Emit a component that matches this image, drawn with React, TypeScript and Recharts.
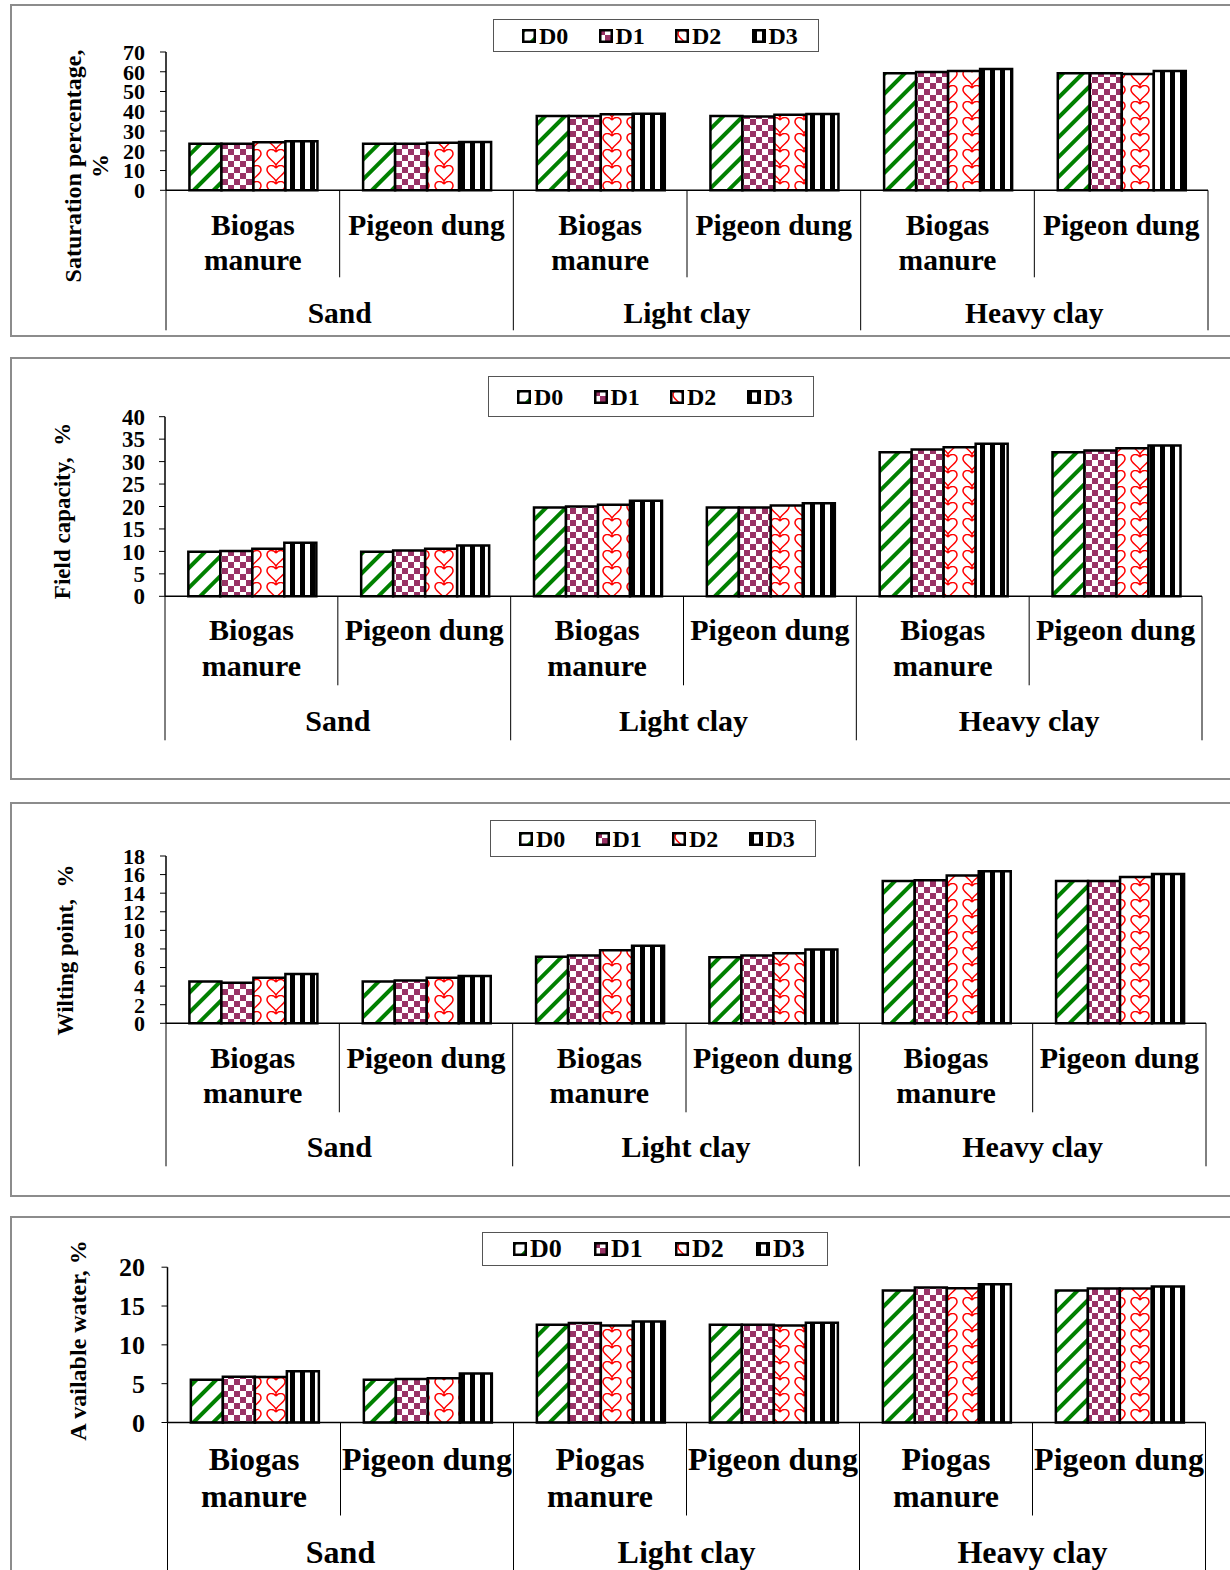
import React from 'react';
import { BarChart, Bar, XAxis, YAxis, Legend } from 'recharts';

const FONT = '"Liberation Serif", "Times New Roman", serif';

const SUBS = ['Biogas\nmanure', 'Pigeon dung', 'Biogas\nmanure', 'Pigeon dung', 'Biogas\nmanure', 'Pigeon dung'];
const SUBS_AW = ['Biogas\nmanure', 'Pigeon dung', 'Piogas\nmanure', 'Pigeon dung', 'Piogas\nmanure', 'Pigeon dung'];
const GROUPS = ['Sand', 'Light clay', 'Heavy clay'];
const SERIES = ['D0', 'D1', 'D2', 'D3'];

// Saturation percentage, %
const SAT_D0 = [23.6, 23.6, 37.6, 37.6, 59.2, 59.3];
const SAT_D1 = [23.6, 23.6, 37.6, 37.4, 59.9, 59.2];
const SAT_D2 = [24.3, 24.1, 38.5, 38.2, 60.4, 58.9];
const SAT_D3 = [24.8, 24.4, 38.8, 38.6, 61.4, 60.4];
const SAT_TICKS = [0, 10, 20, 30, 40, 50, 60, 70];

// Field capacity, %
const FC_D0 = [9.9, 9.9, 19.8, 19.8, 32.1, 32.1];
const FC_D1 = [10.1, 10.2, 20.0, 19.8, 32.7, 32.5];
const FC_D2 = [10.6, 10.6, 20.4, 20.2, 33.2, 33.0];
const FC_D3 = [11.9, 11.3, 21.3, 20.7, 34.0, 33.6];
const FC_TICKS = [0, 5, 10, 15, 20, 25, 30, 35, 40];

// Wilting point, %
const WP_D0 = [4.5, 4.5, 7.15, 7.1, 15.3, 15.3];
const WP_D1 = [4.35, 4.6, 7.3, 7.3, 15.4, 15.3];
const WP_D2 = [4.9, 4.9, 7.85, 7.55, 15.9, 15.75];
const WP_D3 = [5.3, 5.1, 8.35, 7.95, 16.35, 16.05];
const WP_TICKS = [0, 2, 4, 6, 8, 10, 12, 14, 16, 18];

// Available water, %
const AW_D0 = [5.5, 5.5, 12.6, 12.6, 17.0, 17.0];
const AW_D1 = [5.9, 5.6, 12.8, 12.6, 17.4, 17.25];
const AW_D2 = [5.85, 5.7, 12.5, 12.5, 17.3, 17.25];
const AW_D3 = [6.6, 6.3, 13.0, 12.85, 17.8, 17.5];
const AW_TICKS = [0, 5, 10, 15, 20];

const buildRows = (subs: string[], d0: number[], d1: number[], d2: number[], d3: number[]) =>
  subs.map((s, i) => ({ sub: s, D0: d0[i], D1: d1[i], D2: d2[i], D3: d3[i] }));

type Layout = {
  boxTop: number; boxBottom: number;
  plotLeft: number; plotRight: number; plotTop: number; plotBottom: number;
  tickFs: number; subFs: number;
  l1: number; l2: number; grp: number; subLine: number; grpLine: number;
  leg: { x: number; y: number; w: number; h: number; off: number; step: number; fs: number };
  title: { lines: { t: string; cx: number }[]; cy: number; fs: number };
};

const L1: Layout = {
  boxTop: 5, boxBottom: 336, plotLeft: 166, plotRight: 1208, plotTop: 52, plotBottom: 190.3,
  tickFs: 22, subFs: 29.5, l1: 45, l2: 80, grp: 133, subLine: 87, grpLine: 140,
  leg: { x: 493, y: 19, w: 326, h: 33, off: 28, step: 76.5, fs: 24 },
  title: { lines: [{ t: 'Saturation percentage,', cx: 73 }, { t: '%', cx: 100 }], cy: 166, fs: 24 },
};
const L2: Layout = {
  boxTop: 358, boxBottom: 779, plotLeft: 165, plotRight: 1202, plotTop: 416.7, plotBottom: 596.3,
  tickFs: 23, subFs: 30, l1: 44, l2: 80, grp: 135, subLine: 89, grpLine: 144,
  leg: { x: 488, y: 376, w: 326, h: 41, off: 28, step: 76.5, fs: 24 },
  title: { lines: [{ t: 'Field capacity,  %', cx: 62 }], cy: 511, fs: 23 },
};
const L3: Layout = {
  boxTop: 803, boxBottom: 1196, plotLeft: 166, plotRight: 1206, plotTop: 856, plotBottom: 1023.3,
  tickFs: 22, subFs: 30, l1: 45, l2: 80, grp: 134, subLine: 89, grpLine: 143,
  leg: { x: 490, y: 820, w: 326, h: 37, off: 28, step: 76.5, fs: 24 },
  title: { lines: [{ t: 'Wilting point,  %', cx: 65 }], cy: 950, fs: 23 },
};
const L4: Layout = {
  boxTop: 1216.5, boxBottom: 1620, plotLeft: 167.5, plotRight: 1205.5, plotTop: 1266.7, plotBottom: 1422,
  tickFs: 26, subFs: 32, l1: 47, l2: 84, grp: 140, subLine: 93, grpLine: 200,
  leg: { x: 482, y: 1232, w: 346, h: 34, off: 30, step: 81, fs: 26 },
  title: { lines: [{ t: 'A vailable water, %', cx: 78 }], cy: 1340, fs: 24 },
};

const Patterns = () => (
  <svg width={0} height={0} style={{ position: 'absolute', left: 0, top: 0 }}>
    <defs>
      <pattern id="pD0" patternUnits="userSpaceOnUse" width={14} height={14} patternTransform="rotate(45)">
        <rect width={14} height={14} fill="#fff" />
        <rect width={4} height={14} fill="#008000" />
      </pattern>
      <pattern id="pD1" patternUnits="userSpaceOnUse" width={12} height={12}>
        <rect width={12} height={12} fill="#fff" />
        <rect width={6} height={6} fill="#993366" />
        <rect x={6} y={6} width={6} height={6} fill="#993366" />
      </pattern>
      <pattern id="pD2" patternUnits="userSpaceOnUse" width={24} height={16}>
        <rect width={24} height={16} fill="#fff" />
        <path d="M12 3 C9 -1 3 0 3 5 C3 9 9 11 12 16 M12 3 C15 -1 21 0 21 5 C21 9 15 11 12 16 M12 0 L12 3"
          stroke="#ff0000" strokeWidth={1.5} fill="none" strokeLinejoin="miter" />
      </pattern>
      <pattern id="pD3" patternUnits="userSpaceOnUse" width={10} height={10}>
        <rect width={10} height={10} fill="#fff" />
        <rect width={5} height={10} fill="#000" />
      </pattern>
    </defs>
  </svg>
);

const LegendBox = ({ L }: { L: Layout }) => (
  <div style={{ width: '100%', height: '100%', boxSizing: 'border-box', border: '1.5px solid #555', background: '#fff', position: 'relative' }}>
    {SERIES.map((s, i) => (
      <div key={s} style={{ position: 'absolute', left: L.leg.off + i * L.leg.step, top: 0, height: '100%', display: 'flex', alignItems: 'center' }}>
        <svg width={14} height={14} style={{ display: 'block' }}>
          <rect x={1.25} y={1.25} width={11.5} height={11.5} fill={`url(#p${s})`} stroke="#000" strokeWidth={2.5} />
        </svg>
        <span style={{ fontFamily: FONT, fontWeight: 'bold', fontSize: L.leg.fs, marginLeft: 3, lineHeight: 1 }}>{s}</span>
      </div>
    ))}
  </div>
);

const makeTick = (L: Layout) => (props: any) => {
  const { x, payload } = props;
  const i = props.index ?? payload.index ?? 0;
  const band = (L.plotRight - L.plotLeft) / 6;
  const y0 = L.plotBottom - L.boxTop;
  const lines = String(payload.value).split('\n');
  const rb = x + band / 2;
  const txt = { fontFamily: FONT, fontWeight: 'bold' as const, fontSize: L.subFs, fill: '#000' };
  return (
    <g>
      {lines.map((ln, k) => (
        <text key={k} x={x} y={y0 + L.l1 + k * (L.l2 - L.l1)} textAnchor="middle" {...txt}>{ln}</text>
      ))}
      <line x1={rb} x2={rb} y1={y0} y2={y0 + (i % 2 === 0 ? L.subLine : L.grpLine)} stroke="#000" strokeWidth={1} />
      {i === 0 && <line x1={x - band / 2} x2={x - band / 2} y1={y0} y2={y0 + L.grpLine} stroke="#000" strokeWidth={1} />}
      {i % 2 === 0 && (
        <text x={rb} y={y0 + L.grp} textAnchor="middle" {...txt}>{GROUPS[i / 2]}</text>
      )}
    </g>
  );
};

const Panel = ({ L, rows, ticks }: { L: Layout; rows: any[]; ticks: number[] }) => {
  const chartH = L.boxBottom - L.boxTop;
  const yAxisW = 60;
  const xAxisH = 30;
  const margin = {
    top: L.plotTop - L.boxTop,
    left: L.plotLeft - yAxisW,
    right: 1230 - L.plotRight,
    bottom: chartH - (L.plotBottom - L.boxTop) - xAxisH,
  };
  const yMax = ticks[ticks.length - 1];
  const titleLabel = () => (
    <g>
      {L.title.lines.map((ln, k) => {
        const cy = L.title.cy - L.boxTop;
        return (
          <text key={k} x={ln.cx} y={cy} transform={`rotate(-90 ${ln.cx} ${cy})`} textAnchor="middle" dominantBaseline="central"
            style={{ whiteSpace: 'pre' }} fontFamily={FONT} fontWeight="bold" fontSize={L.title.fs} fill="#000">{ln.t}</text>
        );
      })}
    </g>
  );
  return (
    <>
      <div style={{ position: 'absolute', left: 10, top: L.boxTop - 1, width: 1260, height: chartH + 2, border: '2px solid #8c8c8c', boxSizing: 'border-box' }} />
      <div style={{ position: 'absolute', left: 0, top: L.boxTop }}>
        <BarChart width={1230} height={chartH} data={rows} margin={margin} barCategoryGap="13.5%" barGap={0}>
          <XAxis dataKey="sub" xAxisId={0} height={xAxisH} interval={0} tickLine={false}
            axisLine={{ stroke: '#000', strokeWidth: 1.5 }} tick={makeTick(L)} />
          <XAxis dataKey="sub" xAxisId="top" orientation="top" height={0} tick={false} tickLine={false}
            axisLine={{ stroke: '#999', strokeWidth: 2 }} />
          <YAxis yAxisId={0} width={yAxisW} domain={[0, yMax]} ticks={ticks} interval={0} tickSize={6}
            tickMargin={L.plotLeft - 6 - 145} tickLine={{ stroke: '#000' }} axisLine={{ stroke: '#000', strokeWidth: 1.5 }}
            tick={{ fontFamily: FONT, fontWeight: 'bold', fontSize: L.tickFs, fill: '#000' }} label={titleLabel} />
          <YAxis yAxisId="right" orientation="right" width={0} domain={[0, yMax]} tick={false} tickLine={false}
            axisLine={{ stroke: '#999', strokeWidth: 2 }} />
          <Legend layout="horizontal" verticalAlign="middle" align="center"
            wrapperStyle={{ left: L.leg.x, top: L.leg.y - L.boxTop, width: L.leg.w, height: L.leg.h }}
            content={() => <LegendBox L={L} />} />
          {SERIES.map((s) => (
            <Bar key={s} dataKey={s} xAxisId={0} yAxisId={0} fill={`url(#p${s})`} stroke="#000" strokeWidth={2.5} isAnimationActive={false} />
          ))}
        </BarChart>
      </div>
    </>
  );
};

export default function App() {
  return (
    <div style={{ position: 'absolute', left: 0, top: 0, width: 1230, height: 1570, overflow: 'hidden', background: '#fff' }}>
      <Patterns />
      <Panel L={L1} rows={buildRows(SUBS, SAT_D0, SAT_D1, SAT_D2, SAT_D3)} ticks={SAT_TICKS} />
      <Panel L={L2} rows={buildRows(SUBS, FC_D0, FC_D1, FC_D2, FC_D3)} ticks={FC_TICKS} />
      <Panel L={L3} rows={buildRows(SUBS, WP_D0, WP_D1, WP_D2, WP_D3)} ticks={WP_TICKS} />
      <Panel L={L4} rows={buildRows(SUBS_AW, AW_D0, AW_D1, AW_D2, AW_D3)} ticks={AW_TICKS} />
    </div>
  );
}
